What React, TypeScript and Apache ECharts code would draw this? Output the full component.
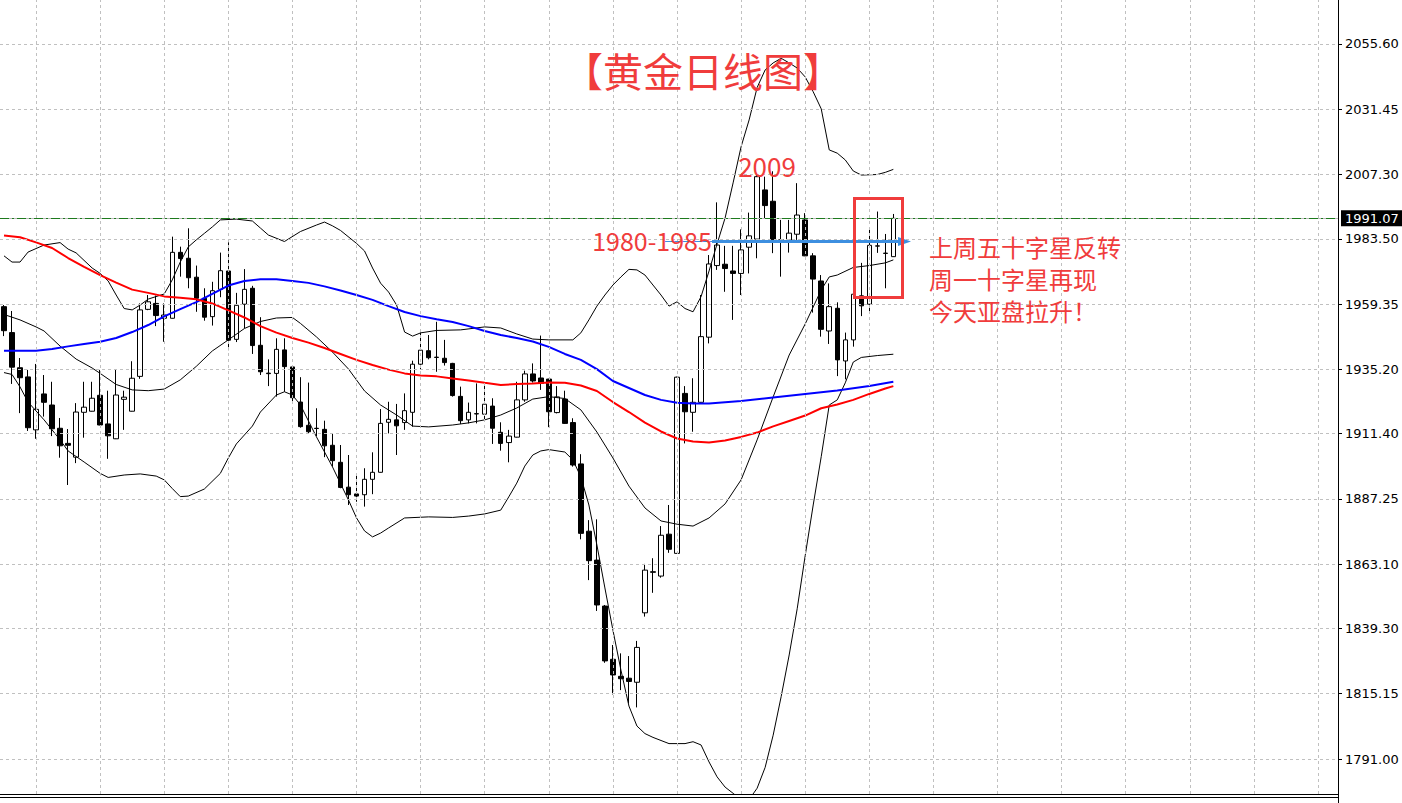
import React, { useEffect, useRef } from "react";
import * as echarts from "echarts";

// ---------- data ----------
const slotCount = 167; // visible daily slots (right part of chart is empty shift area)
const categories: string[] = Array.from({ length: slotCount }, (_, i) => String(i));

// [open, close, low, high]
const candles: number[][] = [
  [1958.4, 1949.5, 1947.5, 1959.0], [1948.8, 1936.0, 1929.8, 1956.8], [1935.8, 1932.1, 1919.0, 1939.4],
  [1932.4, 1913.6, 1912.4, 1935.0], [1912.8, 1920.4, 1909.5, 1937.2], [1926.1, 1923.0, 1917.7, 1933.1],
  [1922.0, 1913.2, 1910.5, 1930.6], [1913.4, 1906.9, 1902.5, 1917.2], [1907.8, 1907.1, 1892.4, 1913.1],
  [1902.7, 1919.4, 1900.5, 1922.7], [1919.3, 1921.2, 1909.9, 1930.6], [1919.7, 1924.5, 1919.6, 1930.6],
  [1925.6, 1914.6, 1914.5, 1935.0], [1915.0, 1910.6, 1902.1, 1927.3], [1909.5, 1925.7, 1909.4, 1935.0],
  [1924.1, 1924.9, 1912.8, 1927.3], [1919.7, 1931.9, 1919.6, 1938.2], [1932.6, 1957.2, 1931.7, 1959.6],
  [1957.4, 1960.2, 1957.1, 1962.7], [1959.6, 1955.1, 1951.2, 1962.5], [1954.1, 1955.3, 1945.4, 1959.6],
  [1954.1, 1978.5, 1954.0, 1984.3], [1978.5, 1976.2, 1969.5, 1980.6], [1976.3, 1969.1, 1965.2, 1987.4],
  [1969.3, 1961.5, 1956.5, 1973.6], [1961.5, 1954.5, 1953.2, 1965.2], [1954.7, 1964.3, 1951.4, 1967.6],
  [1964.8, 1971.7, 1961.9, 1978.4], [1971.6, 1946.0, 1942.3, 1982.2], [1946.3, 1958.9, 1945.3, 1963.5],
  [1959.3, 1964.8, 1950.4, 1972.3], [1965.2, 1944.0, 1940.9, 1966.1], [1944.1, 1934.3, 1933.1, 1954.5],
  [1933.8, 1933.6, 1929.0, 1938.9], [1933.7, 1942.6, 1925.1, 1946.7], [1942.4, 1936.2, 1926.9, 1946.7],
  [1936.1, 1924.7, 1922.6, 1936.2], [1923.1, 1914.0, 1913.6, 1932.3], [1914.5, 1912.1, 1911.5, 1930.3],
  [1913.4, 1913.3, 1910.5, 1920.8], [1913.0, 1906.9, 1902.7, 1916.2], [1907.1, 1901.4, 1899.2, 1911.5],
  [1900.8, 1891.5, 1891.2, 1907.2], [1891.6, 1888.8, 1885.0, 1903.5], [1889.1, 1888.3, 1886.2, 1896.7],
  [1888.8, 1894.5, 1884.4, 1898.6], [1894.5, 1897.1, 1889.0, 1904.5], [1897.1, 1915.2, 1897.0, 1920.5],
  [1915.6, 1916.7, 1911.5, 1923.2], [1916.5, 1914.3, 1903.5, 1922.4], [1915.5, 1919.9, 1912.8, 1926.3],
  [1919.3, 1937.1, 1914.0, 1938.4], [1937.1, 1942.3, 1935.0, 1948.8], [1942.1, 1939.5, 1938.9, 1947.9],
  [1939.7, 1939.6, 1934.3, 1952.8], [1939.3, 1937.7, 1936.6, 1946.1], [1937.4, 1925.5, 1925.1, 1937.6],
  [1925.2, 1916.2, 1915.0, 1928.8], [1916.5, 1919.3, 1915.2, 1922.9], [1918.8, 1918.7, 1915.2, 1930.0],
  [1918.6, 1922.3, 1916.5, 1929.4], [1921.6, 1913.4, 1907.6, 1924.5], [1911.9, 1907.8, 1905.1, 1915.6],
  [1908.1, 1910.5, 1900.8, 1912.8], [1910.1, 1923.9, 1910.0, 1930.6], [1923.9, 1933.5, 1923.2, 1934.7],
  [1933.5, 1930.9, 1930.3, 1937.4], [1932.0, 1930.0, 1927.6, 1947.7], [1931.6, 1919.5, 1913.8, 1931.7],
  [1919.2, 1925.0, 1918.9, 1929.0], [1924.2, 1915.2, 1915.0, 1927.3], [1915.5, 1899.8, 1899.2, 1917.1],
  [1900.2, 1874.5, 1872.3, 1903.8], [1875.3, 1864.4, 1857.2, 1879.4], [1864.6, 1848.0, 1845.8, 1879.7],
  [1847.6, 1827.3, 1826.6, 1848.0], [1827.9, 1822.1, 1814.9, 1833.2], [1821.6, 1820.7, 1816.5, 1830.1],
  [1820.9, 1819.7, 1811.6, 1829.1], [1819.4, 1832.3, 1810.1, 1834.7], [1845.1, 1860.9, 1843.7, 1863.2],
  [1860.3, 1860.1, 1852.5, 1865.3], [1858.7, 1873.8, 1858.1, 1877.2], [1874.2, 1868.6, 1867.3, 1885.0],
  [1867.1, 1932.3, 1867.0, 1932.5], [1926.3, 1919.5, 1907.8, 1929.0], [1919.3, 1923.0, 1912.1, 1931.9],
  [1923.0, 1947.3, 1922.9, 1962.7], [1947.1, 1974.2, 1944.8, 1977.5], [1973.6, 1981.2, 1972.0, 1997.0],
  [1974.1, 1972.5, 1963.9, 1980.9], [1971.6, 1970.7, 1953.5, 1980.9], [1970.7, 1979.4, 1962.7, 1987.0],
  [1980.4, 1984.6, 1970.7, 1993.2], [1983.4, 2006.5, 1976.3, 2007.5], [2001.6, 1995.8, 1991.2, 2006.5],
  [1997.4, 1983.2, 1978.2, 2008.5], [1983.1, 1983.0, 1969.5, 1990.5], [1983.0, 1985.6, 1978.4, 1990.5],
  [1985.2, 1992.3, 1983.1, 2004.1], [1990.5, 1977.2, 1977.1, 1993.0], [1977.2, 1968.6, 1956.2, 1978.2],
  [1967.9, 1950.0, 1947.3, 1970.1], [1949.4, 1958.4, 1944.6, 1967.0], [1957.8, 1938.7, 1932.7, 1960.0],
  [1938.3, 1946.1, 1931.5, 1948.8], [1946.1, 1963.0, 1943.6, 1971.0], [1962.4, 1958.7, 1954.9, 1974.6],
  [1959.3, 1981.1, 1956.2, 1987.7], [1980.8, 1980.9, 1978.3, 1993.6], [1978.2, 1978.1, 1965.2, 1985.3],
  [1976.9, 1991.07, 1976.8, 1992.7],
];

// [candle index, value]
const maRed: number[][] = [
  [0, 1984.7], [2, 1984.1], [4, 1982.2], [6, 1980.1], [8, 1976.4], [10, 1973.1], [12, 1970.1], [14, 1967.3],
  [16, 1964.7], [18, 1963.5], [20, 1962.2], [22, 1961.7], [24, 1961.1], [26, 1959.6], [28, 1957.0], [30, 1954.4],
  [32, 1951.2], [34, 1948.8], [36, 1946.8], [38, 1945.1], [40, 1943.1], [42, 1940.9], [44, 1938.7], [46, 1936.8],
  [48, 1935.1], [50, 1933.7], [52, 1932.9], [54, 1932.6], [56, 1931.8], [58, 1931.1], [60, 1930.2], [62, 1929.4],
  [64, 1929.8], [66, 1930.0], [68, 1930.3], [70, 1930.2], [72, 1929.2], [74, 1927.2], [76, 1923.1], [78, 1919.4],
  [80, 1915.5], [82, 1912.2], [84, 1909.6], [86, 1908.5], [88, 1908.1], [90, 1908.9], [92, 1910.2], [94, 1911.8],
  [96, 1914.1], [98, 1916.1], [100, 1918.1], [102, 1920.8], [104, 1922.2], [106, 1923.9], [108, 1926.1],
  [110, 1928.1], [111, 1929.0],
];

const maBlue: number[][] = [
  [0, 1942.1], [4, 1942.1], [6, 1942.7], [8, 1943.7], [10, 1944.6], [12, 1945.4], [14, 1946.8], [16, 1949.0],
  [18, 1951.6], [20, 1954.8], [22, 1957.5], [24, 1960.1], [26, 1963.1], [28, 1966.2], [30, 1967.9], [32, 1968.5],
  [34, 1968.5], [36, 1967.9], [38, 1967.2], [40, 1965.9], [42, 1964.4], [44, 1962.7], [46, 1960.9], [48, 1958.6],
  [50, 1956.4], [52, 1954.9], [54, 1953.7], [56, 1952.7], [58, 1951.2], [60, 1949.4], [62, 1947.9], [64, 1946.8],
  [66, 1945.5], [68, 1943.5], [70, 1940.9], [72, 1938.7], [74, 1935.3], [76, 1930.9], [78, 1928.3], [80, 1925.7],
  [82, 1923.9], [84, 1922.8], [86, 1922.6], [88, 1922.6], [92, 1923.5], [96, 1924.8], [100, 1926.1],
  [104, 1927.4], [108, 1929.0], [111, 1930.6],
];

const bollUpper: number[][] = [
  [0, 1977.2], [1, 1974.9], [2, 1974.9], [3, 1978.6], [5, 1981.2], [7, 1982.1], [8, 1979.7], [9, 1978.3],
  [11, 1972.7], [12, 1970.7], [13, 1967.9], [14, 1962.7], [15, 1957.7], [16, 1957.2], [17, 1959.0], [18, 1961.2],
  [20, 1963.1], [21, 1968.3], [22, 1974.9], [23, 1980.5], [24, 1983.1], [25, 1985.5], [26, 1987.9], [27, 1990.5],
  [29, 1990.8], [31, 1990.1], [32, 1987.5], [33, 1984.9], [35, 1982.5], [37, 1986.2], [39, 1988.6], [40, 1989.7],
  [41, 1988.3], [42, 1986.6], [44, 1981.8], [45, 1979.0], [46, 1972.7], [47, 1967.1], [48, 1963.8], [49, 1959.0],
  [50, 1949.0], [51, 1947.5], [52, 1948.7], [54, 1949.6], [57, 1949.8], [60, 1950.9], [62, 1950.5], [64, 1948.3],
  [66, 1946.4], [68, 1946.1], [71, 1946.1], [72, 1948.7], [73, 1953.5], [74, 1958.6], [75, 1962.7], [76, 1966.4],
  [77, 1969.4], [78, 1972.2], [79, 1972.0], [80, 1970.1], [81, 1966.4], [82, 1962.7], [83, 1958.6], [84, 1960.2],
  [85, 1957.7], [86, 1956.5], [87, 1962.1], [88, 1971.6], [89, 1981.6], [90, 1991.2], [91, 2004.2], [92, 2017.6],
  [93, 2027.5], [94, 2039.5], [95, 2046.0], [96, 2048.6], [97, 2050.3], [98, 2048.6], [99, 2046.7], [100, 2043.4],
  [101, 2037.9], [102, 2031.6], [103, 2016.4], [104, 2015.2], [105, 2012.7], [106, 2008.6], [107, 2007.1],
  [109, 2007.3], [110, 2008.1], [111, 2009.2],
];

const bollMid: number[][] = [
  [0, 1955.5], [2, 1953.5], [4, 1950.9], [5, 1949.4], [7, 1943.8], [9, 1939.0], [11, 1935.7], [12, 1933.7],
  [14, 1929.6], [16, 1927.6], [18, 1927.3], [20, 1927.9], [22, 1931.3], [24, 1936.3], [26, 1942.0], [28, 1946.1],
  [30, 1950.3], [32, 1952.9], [34, 1954.2], [36, 1954.4], [37, 1952.2], [39, 1947.2], [41, 1941.6], [43, 1935.3],
  [45, 1927.2], [47, 1922.0], [49, 1918.3], [51, 1914.2], [53, 1913.9], [56, 1914.6], [58, 1915.4], [60, 1916.5],
  [62, 1918.3], [64, 1920.9], [66, 1924.2], [68, 1925.1], [70, 1924.4], [72, 1920.2], [74, 1912.0], [76, 1902.4],
  [78, 1892.0], [80, 1883.9], [82, 1879.1], [84, 1877.9], [86, 1877.2], [88, 1880.2], [90, 1885.4], [92, 1894.3],
  [94, 1909.1], [96, 1925.0], [98, 1940.5], [100, 1952.0], [102, 1964.6], [103, 1969.4], [104, 1970.1],
  [106, 1972.9], [108, 1973.6], [110, 1974.6], [111, 1975.7],
];

const bollLower: number[][] = [
  [0, 1934.0], [1, 1933.3], [2, 1928.7], [3, 1923.1], [4, 1919.8], [5, 1916.5], [7, 1909.1], [8, 1905.0],
  [10, 1900.9], [12, 1896.7], [13, 1895.2], [15, 1896.1], [17, 1896.5], [19, 1895.7], [20, 1894.3], [21, 1891.1],
  [22, 1888.1], [23, 1888.3], [25, 1890.9], [27, 1896.7], [28, 1902.4], [29, 1907.6], [31, 1914.2], [32, 1919.4],
  [34, 1925.7], [35, 1926.9], [36, 1925.7], [37, 1922.0], [39, 1910.2], [41, 1899.1], [43, 1886.8], [44, 1880.2],
  [45, 1875.4], [46, 1873.2], [47, 1874.6], [48, 1876.5], [50, 1880.2], [53, 1880.6], [56, 1880.4], [58, 1880.9],
  [60, 1881.7], [62, 1883.1], [63, 1888.0], [64, 1893.1], [65, 1899.4], [66, 1903.5], [67, 1905.0], [68, 1905.5],
  [70, 1904.6], [71, 1901.7], [72, 1895.4], [73, 1885.0], [74, 1870.2], [75, 1854.3], [76, 1838.7], [77, 1823.9],
  [78, 1810.6], [79, 1803.2], [80, 1800.4], [81, 1799.0], [83, 1796.7], [85, 1796.7], [86, 1797.4], [87, 1796.2],
  [88, 1789.9], [89, 1784.4], [90, 1780.6], [91, 1778.3], [92, 1776.0], [93, 1776.0], [94, 1780.2], [95, 1787.9],
  [96, 1799.8], [97, 1814.1], [98, 1829.5], [99, 1846.6], [100, 1866.3], [101, 1885.0], [102, 1902.9],
  [103, 1922.0], [104, 1923.9], [105, 1930.2], [106, 1937.9], [107, 1939.6], [109, 1940.3], [111, 1940.8],
];

const priceTickLabels: string[] = [
  "1791.00", "1815.15", "1839.30", "1863.10", "1887.25", "1911.40",
  "1935.20", "1959.35", "1983.50", "2007.30", "2031.45", "2055.60",
];
const lastPrice = 1991.07;
const gridColumnSlots: number[] = [4, 12, 20, 28, 36, 44, 52, 60, 68, 76, 84, 92, 100, 108, 116, 124, 132, 140, 148, 156, 164];

const yTop = 2071.88;
const yBottom = 1778.05;

const RED = "#f03c3c";
const ARROW = "#3d8fe0";

export default function App() {
  const ref = useRef<HTMLDivElement>(null);
  useEffect(() => {
    document.body.style.margin = "0";
    if (!ref.current) return;
    const chart = echarts.init(ref.current, undefined, { renderer: "svg" });
    const tickValues = priceTickLabels.map(Number);
    const gridLineStyle = { color: "#c0c0c0", type: [3, 3], width: 1 };
    const option: any = {
      animation: false,
      backgroundColor: "#ffffff",
      grid: { left: 0, right: 64, top: 0, bottom: 9, containLabel: false },
      xAxis: {
        type: "category",
        data: categories,
        boundaryGap: true,
        axisLine: { show: true, lineStyle: { color: "#000", width: 1 } },
        axisTick: { show: false },
        axisLabel: { show: false },
        splitLine: { show: false },
      },
      yAxis: {
        type: "value",
        position: "right",
        min: yBottom,
        max: yTop,
        axisLine: { show: true, onZero: false, lineStyle: { color: "#000", width: 1 } },
        axisTick: { show: true, length: 4, customValues: tickValues, lineStyle: { color: "#000" } },
        axisLabel: {
          show: true,
          customValues: tickValues,
          formatter: (v: number) => v.toFixed(2),
          color: "#000",
          fontFamily: "DejaVu Sans",
          fontSize: 13,
          margin: 7,
        },
        splitLine: { show: false },
      },
      series: [
        {
          type: "line",
          data: [],
          z: 1,
          silent: true,
          markLine: {
            silent: true,
            symbol: ["none", "none"],
            label: { show: false },
            lineStyle: gridLineStyle,
            data: [
              ...gridColumnSlots.map((c) => ({ xAxis: c })),
              ...tickValues.map((v) => ({ yAxis: v })),
              { yAxis: lastPrice, lineStyle: { color: "#b8b8b8", type: "solid", width: 1 } },
              {
                yAxis: lastPrice,
                lineStyle: { color: "#1d7a1d", type: [9, 3, 2, 3], width: 1 },
                label: {
                  show: true,
                  position: "end",
                  distance: 3,
                  formatter: lastPrice.toFixed(2),
                  color: "#fff",
                  backgroundColor: "#000",
                  padding: [2, 4, 1, 4],
                  fontFamily: "DejaVu Sans",
                  fontSize: 13,
                },
              },
            ],
          },
        },
        {
          type: "candlestick",
          data: candles,
          barWidth: 5,
          z: 2,
          itemStyle: {
            color: "#ffffff",
            color0: "#000000",
            borderColor: "#000000",
            borderColor0: "#000000",
            borderWidth: 1,
          },
        },
        { type: "line", data: bollUpper, z: 3, symbol: "none", lineStyle: { color: "#000", width: 1 } },
        { type: "line", data: bollMid, z: 3, symbol: "none", lineStyle: { color: "#000", width: 1 } },
        { type: "line", data: bollLower, z: 3, symbol: "none", lineStyle: { color: "#000", width: 1 } },
        { type: "line", data: maBlue, z: 4, symbol: "none", lineStyle: { color: "#0000ff", width: 2 } },
        { type: "line", data: maRed, z: 4, symbol: "none", lineStyle: { color: "#ff0000", width: 2 } },
      ],
      graphic: [
        {
          type: "text", z: 100,
          style: { x: 703, y: 70, text: "【黄金日线图】", fill: RED, font: '40px "Noto Sans CJK SC"', align: "center", verticalAlign: "middle", textAlign: "center", textVerticalAlign: "middle" },
        },
        {
          type: "text", z: 100,
          style: { x: 767, y: 165, text: "2009", fill: RED, font: '26px "Noto Sans CJK SC"', align: "center", verticalAlign: "middle", textAlign: "center", textVerticalAlign: "middle" },
        },
        {
          type: "text", z: 100,
          style: { x: 652, y: 240, text: "1980-1985", fill: RED, font: '25px "Noto Sans CJK SC"', align: "center", verticalAlign: "middle", textAlign: "center", textVerticalAlign: "middle" },
        },
        {
          type: "text", z: 100,
          style: { x: 929, y: 246, text: "上周五十字星反转", fill: RED, font: '24px "Noto Sans CJK SC"', align: "left", verticalAlign: "middle", textAlign: "left", textVerticalAlign: "middle" },
        },
        {
          type: "text", z: 100,
          style: { x: 929, y: 278, text: "周一十字星再现", fill: RED, font: '24px "Noto Sans CJK SC"', align: "left", verticalAlign: "middle", textAlign: "left", textVerticalAlign: "middle" },
        },
        {
          type: "text", z: 100,
          style: { x: 929, y: 310, text: "今天亚盘拉升！", fill: RED, font: '24px "Noto Sans CJK SC"', align: "left", verticalAlign: "middle", textAlign: "left", textVerticalAlign: "middle" },
        },
        {
          type: "rect", z: 100,
          shape: { x: 854.5, y: 198.5, width: 48, height: 99 },
          style: { fill: "none", stroke: RED, lineWidth: 3 },
        },
        {
          type: "line", z: 99,
          shape: { x1: 665, y1: 241.5, x2: 712, y2: 241.5 },
          style: { stroke: ARROW, lineWidth: 1 },
        },
        {
          type: "line", z: 99,
          shape: { x1: 712, y1: 241.5, x2: 900, y2: 241.5 },
          style: { stroke: ARROW, lineWidth: 3 },
        },
        {
          type: "polygon", z: 99,
          shape: { points: [[898, 237], [911, 241.5], [898, 246]] },
          style: { fill: ARROW },
        },
        {
          type: "line", z: 100,
          shape: { x1: 0, y1: 797.5, x2: 1338, y2: 797.5 },
          style: { stroke: "#000", lineWidth: 1 },
        },
        {
          type: "line", z: 100,
          shape: { x1: 1338.5, y1: 794, x2: 1338.5, y2: 803 },
          style: { stroke: "#000", lineWidth: 1 },
        },
      ],
    };
    chart.setOption(option);
    return () => chart.dispose();
  }, []);
  return <div ref={ref} style={{ width: 1402, height: 803 }} />;
}
